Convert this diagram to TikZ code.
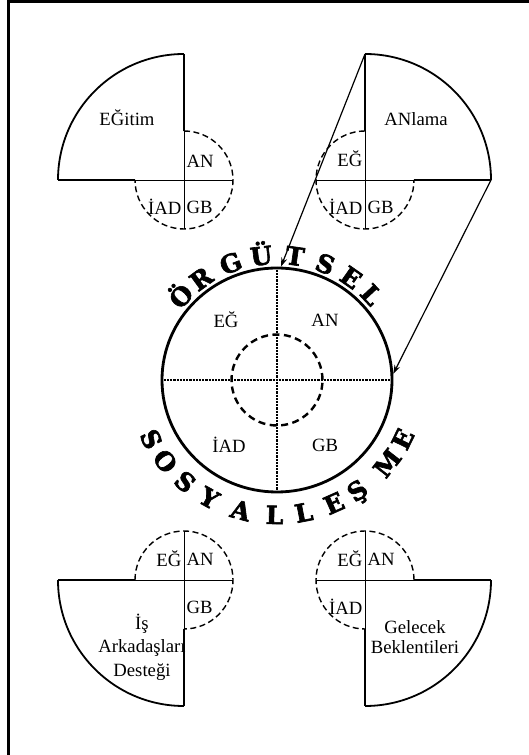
\documentclass[tikz,border=0pt]{standalone}
\usepackage{fontspec}
\setmainfont{Liberation Serif}
\newfontfamily\archfont[FakeBold=2.5]{DejaVu Serif Bold}
\usetikzlibrary{arrows.meta, calc, shapes.geometric}

\begin{document}
\begin{tikzpicture}[x=1pt, y=1pt,
  rim/.style={line width=1.8pt},
  bar/.style={line width=2.6pt},
  ringdash/.style={line width=1.4pt, dash pattern=on 6pt off 3.5pt},
  crossline/.style={line width=0.9pt},
  dotline/.style={line width=2.4pt, dash pattern=on 2.2pt off 1pt},
  qlabel/.style={font=\fontsize{18.7}{22}\selectfont, inner sep=1.5pt},
  biglabel/.style={font=\fontsize{18.7}{23.5}\selectfont, align=center, inner sep=0pt},
  archletter/.style={font=\archfont\fontsize{25}{25}\selectfont,
    inner sep=0pt, anchor=base},
  proj/.style={-{Stealth[length=9pt, width=6pt]}, line width=1.2pt},
]
\useasboundingbox (0,0) rectangle (529,755);

%% ── Frame ────────────────────────────────────────────────────────────────────
\draw[line width=2.6pt] (8.7,0) -- (8.7,753.7) -- (529,753.7);

%% ── Central circle ───────────────────────────────────────────────────────────
\node[ellipse, draw, line width=2.8pt, minimum width=230pt, minimum height=224pt,
  inner sep=0pt] (core) at (277,375) {};
\node[circle, draw, line width=2.4pt, dash pattern=on 7pt off 4.5pt,
  minimum size=91pt, inner sep=0pt] (inner) at (core.center) {};
\draw[dotline] (core.north) -- (core.south);
\draw[dotline] (core.west) -- (core.east);

\node[qlabel] (coreeg)  at (226,435) {EĞ};
\node[qlabel] (corean)  at (325,435) {AN};
\node[qlabel] (coreiad) at (229,310) {İAD};
\node[qlabel] (coregb)  at (325,310) {GB};

%% ── Arched titles ────────────────────────────────────────────────────────────
\foreach \ch/\a in {Ö/138, R/126, G/111, Ü/97, T/82, S/68, E/55, L/43}
  \node[archletter, rotate=\a-90] at ($(core.center)+(\a:120pt and 116pt)$) {\ch};
\foreach \ch/\a in {S/206, O/217, S/229, Y/241, A/255, L/269, L/281, E/294, Ş/305, M/322, E/334}
  \node[archletter, rotate=\a+90] at ($(core.center)+(\a:149pt and 144pt)$) {\ch};

%% ── Quarter pieces ───────────────────────────────────────────────────────────
\coordinate (egitim)  at (184,575);
\coordinate (anlama)  at (365,575);
\coordinate (isark)   at (184,175);
\coordinate (gelecek) at (365,175);

% EĞitim (upper left)
\draw[rim] (egitim) ++(0,126) arc[start angle=90, end angle=180, radius=126pt];
\draw[bar] (egitim) ++(0,126) -- ++(0,-77);
\draw[bar] (egitim) ++(-126,0) -- ++(77,0);
\draw[ringdash] (egitim) ++(0,49) arc[start angle=90, end angle=-180, radius=49pt];
\draw[crossline] (egitim) ++(0,49) -- ++(0,-98);
\draw[crossline] (egitim) ++(-49,0) -- ++(98,0);
\node[biglabel] (egitimtext) at (127,637) {EĞitim};
\node[qlabel, anchor=west] at ($(egitim)+(1,19)$)  {AN};
\node[qlabel, anchor=east] at ($(egitim)+(-1,-27)$) {İAD};
\node[qlabel, anchor=west] at ($(egitim)+(1,-27)$)  {GB};

% ANlama (upper right)
\draw[rim] (anlama) ++(0,126) arc[start angle=90, end angle=0, radius=126pt];
\draw[bar] (anlama) ++(0,126) -- ++(0,-77);
\draw[bar] (anlama) ++(126,0) -- ++(-77,0);
\draw[ringdash] (anlama) ++(0,49) arc[start angle=90, end angle=360, radius=49pt];
\draw[crossline] (anlama) ++(0,49) -- ++(0,-98);
\draw[crossline] (anlama) ++(-49,0) -- ++(98,0);
\node[biglabel] (anlamatext) at (416,636) {ANlama};
\node[qlabel, anchor=east] at ($(anlama)+(-1,21)$)  {EĞ};
\node[qlabel, anchor=east] at ($(anlama)+(-1,-27)$) {İAD};
\node[qlabel, anchor=west] at ($(anlama)+(1,-27)$)  {GB};

% İş Arkadaşları Desteği (lower left)
\draw[rim] (isark) ++(-126,0) arc[start angle=180, end angle=270, radius=126pt];
\draw[bar] (isark) ++(-126,0) -- ++(77,0);
\draw[bar] (isark) ++(0,-126) -- ++(0,77);
\draw[ringdash] (isark) ++(-49,0) arc[start angle=180, end angle=-90, radius=49pt];
\draw[crossline] (isark) ++(0,49) -- ++(0,-98);
\draw[crossline] (isark) ++(-49,0) -- ++(98,0);
\node[biglabel] (isarktext) at (142,108) {İş\\Arkadaşları\\Desteği};
\node[qlabel, anchor=east] at ($(isark)+(-1,21)$)  {EĞ};
\node[qlabel, anchor=west] at ($(isark)+(1,21)$)   {AN};
\node[qlabel, anchor=west] at ($(isark)+(1,-27)$)  {GB};

% Gelecek Beklentileri (lower right)
\draw[rim] (gelecek) ++(126,0) arc[start angle=0, end angle=-90, radius=126pt];
\draw[bar] (gelecek) ++(126,0) -- ++(-77,0);
\draw[bar] (gelecek) ++(0,-126) -- ++(0,77);
\draw[ringdash] (gelecek) ++(49,0) arc[start angle=0, end angle=270, radius=49pt];
\draw[crossline] (gelecek) ++(0,49) -- ++(0,-98);
\draw[crossline] (gelecek) ++(-49,0) -- ++(98,0);
\node[biglabel, font=\fontsize{18.7}{19.5}\selectfont] (gelecektext) at (415,118) {Gelecek\\Beklentileri};
\node[qlabel, anchor=east] at ($(gelecek)+(-1,21)$)  {EĞ};
\node[qlabel, anchor=west] at ($(gelecek)+(1,21)$)   {AN};
\node[qlabel, anchor=east] at ($(gelecek)+(-1,-27)$) {İAD};

%% ── Projection arrows ────────────────────────────────────────────────────────
\coordinate (anlamatop) at ($(anlama)+(0,126)$);
\coordinate (anlamaend) at ($(anlama)+(126,0)$);
\draw[proj] (anlamatop) -- (core.88);
\draw[proj] (anlamaend) -- (core.3);

\end{tikzpicture}
\end{document}
